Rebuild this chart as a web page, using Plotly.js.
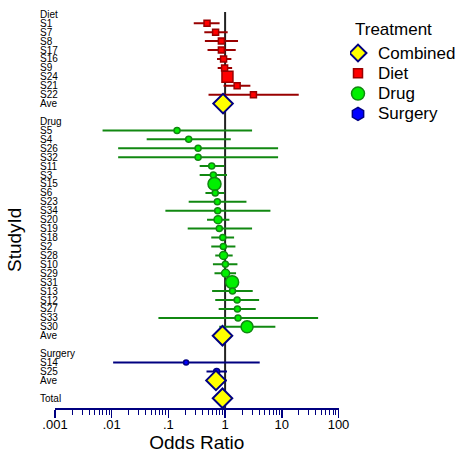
<!DOCTYPE html>
<html><head><meta charset="utf-8">
<script src="https://cdn.plot.ly/plotly-3.0.1.min.js"></script>
<style>html,body{margin:0;padding:0;background:#fff}#chart{width:456px;height:455px}</style>
</head><body><div id="chart"></div>
<script>
// ---- data ----
const dietStudies = ['S1','S7','S8','S17','S16','S9','S24','S21','S22'];
const dietOR = [0.48,0.68,0.86,0.86,0.94,0.98,1.10,1.63,3.16];
const dietLo = [0.28,0.43,0.44,0.49,0.72,0.74,0.94,0.94,0.51];
const dietHi = [0.80,1.11,1.69,1.54,1.29,1.33,1.24,2.79,19.9];
const dietWeight = [6,6,6,6,6,6,11,6,6];

const drugStudies = ['S5','S4','S26','S32','S11','S3','S15','S6','S23','S34','S20','S19','S18','S2','S28','S10','S29','S31','S13','S12','S27','S33','S30'];
const drugOR = [0.142,0.228,0.334,0.334,0.58,0.62,0.65,0.67,0.73,0.74,0.75,0.79,0.91,0.93,0.94,1.01,1.02,1.33,1.35,1.63,1.65,1.69,2.44];
const drugLo = [0.0069,0.0414,0.013,0.013,0.356,0.356,0.55,0.45,0.228,0.0885,0.48,0.219,0.57,0.57,0.67,0.61,0.65,1.15,0.59,0.67,0.77,0.0667,0.79];
const drugHi = [2.99,1.26,8.6,8.6,0.97,1.08,0.77,0.97,2.38,6.3,1.19,2.99,1.44,1.52,1.36,1.65,1.56,1.55,3.07,3.98,3.47,43.7,7.7];
const drugWeight = [6,6,6,6,6,6,13,6,6,6,8,6,6,6,8,6,8,13,6,6,6,6,12];

const surgStudies = ['S14','S25'];
const surgOR = [0.205,0.71];
const surgLo = [0.0106,0.47];
const surgHi = [4.08,1.08];
const surgWeight = [5,6];

const combinedLabels = ['Ave','Ave','Ave','Total'];
const combinedOR = [0.92,0.90,0.69,0.90];
const combinedLo = [0.82,0.80,0.46,0.82];
const combinedHi = [1.03,1.01,1.07,0.99];

const legendTitle = 'Treatment';
const legendNames = ['Combined','Diet','Drug','Surgery'];

const xTickVals = [0.001,0.01,0.1,1,10,100];
const xTickText = ['.001','.01','.1','1','10','100'];

// ---- geometry (pixels) ----
const W = 456, H = 455;
const ML = 55, MT = 12, MB = 47, MR = 0;
const PW = W - ML - MR, PH = H - MT - MB;
const plotRight = 338.5;
const px2paperX = p => (p - ML) / PW;
const px2paperY = p => (H - MB - p) / PH;

// ---- row layout ----
const rows = ['Diet', ...dietStudies, 'Ave', '', 'Drug', ...drugStudies, 'Ave', '', 'Surgery', ...surgStudies, 'Ave', '', 'Total'];
const dietRows = dietStudies.map((s,i)=>1+i);
const dietAve = 1+dietStudies.length;
const drugStart = dietAve+3;
const drugRows = drugStudies.map((s,i)=>drugStart+i);
const drugAve = drugStart+drugStudies.length;
const surgStart = drugAve+3;
const surgRows = surgStudies.map((s,i)=>surgStart+i);
const surgAve = surgStart+surgStudies.length;
const totalRow = surgAve+2;
const combinedRows = [dietAve, drugAve, surgAve, totalRow];

function err(or, lo, hi, color, th){
  return {type:'data', symmetric:false, array: hi.map((h,i)=>h-or[i]), arrayminus: or.map((o,i)=>o-lo[i]), color:color, thickness:th, width:0};
}

const styles = {
  Combined:{symbol:'diamond', color:'#ffff00', line:{color:'#000080', width:2}},
  Diet:{symbol:'square', color:'#ff0000', line:{color:'#990000', width:1.5}},
  Drug:{symbol:'circle', color:'#00f000', line:{color:'#118811', width:1.5}},
  Surgery:{symbol:'circle', color:'#0000ff', line:{color:'#000080', width:1.5}}
};

const traces = [
  {type:'scatter', mode:'markers', x:dietOR, y:dietRows, showlegend:false, hoverinfo:'skip',
   error_x: err(dietOR, dietLo, dietHi, '#990000', 2),
   marker:Object.assign({size:dietWeight, opacity:1}, styles.Diet)},
  {type:'scatter', mode:'markers', x:drugOR, y:drugRows, showlegend:false, hoverinfo:'skip',
   error_x: err(drugOR, drugLo, drugHi, '#118811', 2),
   marker:Object.assign({size:drugWeight, opacity:1}, styles.Drug)},
  {type:'scatter', mode:'markers', x:surgOR, y:surgRows, showlegend:false, hoverinfo:'skip',
   error_x: err(surgOR, surgLo, surgHi, '#000080', 2),
   marker:Object.assign({size:surgWeight, opacity:1}, styles.Surgery)},
  {type:'scatter', mode:'markers', x:combinedOR, y:combinedRows, showlegend:false, hoverinfo:'skip',
   error_x: err(combinedOR, combinedLo, combinedHi, '#000080', 2),
   marker:Object.assign({size:15, opacity:1}, styles.Combined)},
  // legend key (own small axes)
  {type:'scatter', mode:'markers', xaxis:'x2', yaxis:'y2', showlegend:false, hoverinfo:'skip',
   x: legendNames.map(()=>8), y: legendNames.map((n,i)=>i),
   marker:{symbol:['diamond','square','circle','hexagon'], size:[13,9,13,13], opacity:1,
     color:legendNames.map(n=>styles[n].color),
     line:{color:legendNames.map(n=>styles[n].line.color), width:[2,1.5,1.5,1.5]}}}
];

const minorVals = [];
for (let d=-3; d<2; d++) for (let k=2; k<10; k++) minorVals.push(k*Math.pow(10,d));

const font = 'Liberation Sans, Arial, sans-serif';
const annotations = rows.map((r,i)=>({
  xref:'paper', yref:'y', x:px2paperX(38), y:i, text:r, showarrow:false, xanchor:'left', yanchor:'middle',
  font:{family:font, size:10, color:'#000'}
})).filter(a=>a.text!=='');
annotations.push({xref:'paper', yref:'paper', x:px2paperX(15), y:px2paperY(240), text:'StudyId', textangle:-90, showarrow:false,
  xanchor:'center', yanchor:'middle', font:{family:font, size:19, color:'#000'}});
annotations.push({xref:'x2', yref:'y2', x:3, y:-1.18, text:legendTitle, showarrow:false, xanchor:'left', yanchor:'middle',
  font:{family:font, size:17, color:'#000'}});
legendNames.forEach((n,i)=>annotations.push({xref:'x2', yref:'y2', x:26, y:i, text:n, showarrow:false, xanchor:'left', yanchor:'middle',
  font:{family:font, size:17, color:'#000'}}));

const layout = {
  width:W, height:H,
  margin:{l:ML, r:MR, t:MT, b:MB, autoexpand:false},
  paper_bgcolor:'#fff', plot_bgcolor:'rgba(0,0,0,0)',
  font:{family:font, color:'#000'},
  showlegend:false,
  xaxis:{domain:[0, px2paperX(plotRight)], type:'log', range:[-3,2], tickmode:'array', tickvals:xTickVals, ticktext:xTickText,
    ticks:'outside', ticklen:8, tickwidth:1.5, tickcolor:'#000080', ticklabelstandoff:-5,
    showline:true, linecolor:'#000080', linewidth:2, showgrid:false, zeroline:false,
    tickfont:{size:13, color:'#000'},
    minor:{tickmode:'array', tickvals:minorVals, ticks:'outside', ticklen:5, tickwidth:1, tickcolor:'#000080', showgrid:false},
    title:{text:'Odds Ratio', font:{size:19, color:'#000'}, standoff:5}},
  yaxis:{range:[44.09,-0.26], showticklabels:false, showgrid:false, zeroline:false, showline:false, ticks:''},
  xaxis2:{domain:[px2paperX(350), 1], range:[0, W-350], visible:false, anchor:'y2', fixedrange:true},
  yaxis2:{domain:[px2paperY(132), 1], range:[(132-53)/20.3, (12-53)/20.3], visible:false, anchor:'x2', fixedrange:true},
  shapes:[{type:'line', xref:'x', yref:'paper', x0:1, x1:1, y0:0, y1:1, layer:'below', line:{color:'#222', width:2}}],
  annotations:annotations
};

Plotly.newPlot('chart', traces, layout, {displayModeBar:false, staticPlot:true});
</script></body></html>
